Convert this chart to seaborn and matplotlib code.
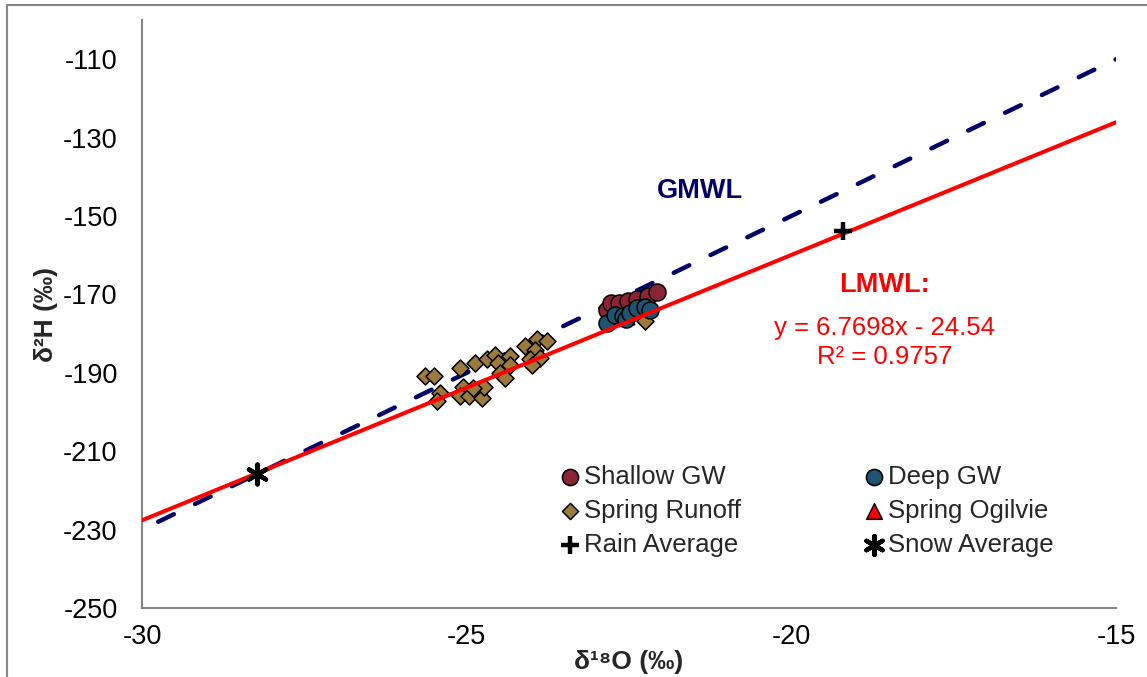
import matplotlib
matplotlib.use('Agg')
import matplotlib.pyplot as plt
import matplotlib.patches as mpatches
import seaborn as sns

# --- DATA ---
shallow_x = [-22.84, -22.78, -22.66, -22.51, -22.38, -22.20, -22.07]
shallow_y = [-173.9, -172.2, -172.2, -171.7, -171.3, -170.5, -169.4]

deep_x = [-22.84, -22.72, -22.59, -22.54, -22.48, -22.38, -22.25, -22.18]
deep_y = [-177.3, -175.2, -175.6, -176.4, -174.8, -173.5, -173.1, -173.9]

runoff_x = [-25.64, -25.51, -25.41, -25.46, -25.10, -25.05, -25.10, -24.97, -24.87,
            -24.77, -24.74, -24.69, -24.56, -24.51, -24.49, -24.33, -24.33, -24.41,
            -24.10, -23.92, -23.77, -23.95, -24.02, -23.87, -24.00, -22.25, -24.90]
runoff_y = [-190.9, -190.9, -195.1, -197.3, -188.8, -193.5, -196.0, -196.0, -187.5,
            -196.4, -193.5, -186.6, -185.4, -187.5, -190.0, -185.8, -187.9, -191.3,
            -183.2, -181.5, -182.0, -184.1, -186.6, -186.2, -187.9, -176.9, -194.0]

ogilvie_x = [-22.55]
ogilvie_y = [-175.5]

rain_x = [-19.20]
rain_y = [-153.9]

snow_x = [-28.23]
snow_y = [-215.8]

# meteoric water lines
lmwl_slope, lmwl_icpt = 6.7698, -24.54
lmwl_x = [-30, -15]
gmwl_slope, gmwl_icpt = 8, 10
gmwl_x = [-29.75, -15]

x_ticks = [-30, -25, -20, -15]
y_ticks = [-250, -230, -210, -190, -170, -150, -130, -110]

# --- STYLE ---
sns.set_style("white")
plt.rcParams['font.family'] = ['Liberation Sans', 'DejaVu Sans']
grey = "#868686"

fig = plt.figure(figsize=(11.47, 6.77), dpi=100)
ax = fig.add_axes([142 / 1147, 1 - 608 / 677, 974 / 1147, 588 / 677])

# GMWL (under the points)
sns.lineplot(x=gmwl_x, y=[gmwl_slope * v + gmwl_icpt for v in gmwl_x], ax=ax,
             color="#000066", linewidth=3.2, dashes=False, zorder=1,
             linestyle=(0, (3.9, 5.3)), dash_capstyle='round')

mk = dict(edgecolor="black", linewidth=1.1, ax=ax, zorder=3)
sns.scatterplot(x=runoff_x, y=runoff_y, marker="D", s=75, color="#9C7A3C", label="Spring Runoff", **mk)
sns.scatterplot(x=ogilvie_x, y=ogilvie_y, marker="^", s=140, color="#FF0000", label="Spring Ogilvie", **mk)
sns.scatterplot(x=shallow_x, y=shallow_y, marker="o", s=150, color="#8B2535", label="Shallow GW", **mk)
sns.scatterplot(x=deep_x, y=deep_y, marker="o", s=150, color="#1D5470", label="Deep GW", **mk)

# LMWL (on top of the points)
sns.lineplot(x=lmwl_x, y=[lmwl_slope * v + lmwl_icpt for v in lmwl_x], ax=ax,
             color="#FF0000", linewidth=2.9, zorder=4)

ax.scatter(rain_x, rain_y, marker="+", s=170, color="black", linewidths=3.2,
           label="Rain Average", zorder=5)
ax.scatter(snow_x, snow_y, marker=(6, 2, 0), s=200, color="black", linewidths=3.2,
           label="Snow Average", zorder=5)

# --- AXES ---
ax.set_xlim(-30, -15)
ax.set_ylim(-250, -100)
ax.set_xticks(x_ticks)
ax.set_yticks(y_ticks)
ax.set_xticklabels([str(v) for v in x_ticks])
ax.set_yticklabels([str(v) for v in y_ticks])
ax.tick_params(axis='both', direction='out', length=6.5, width=1.5, color=grey,
               labelsize=19.5, labelcolor="black")
ax.tick_params(axis='y', pad=11)
ax.tick_params(axis='x', pad=5)
for side in ['top', 'right']:
    ax.spines[side].set_visible(False)
for side in ['left', 'bottom']:
    ax.spines[side].set_color(grey)
    ax.spines[side].set_linewidth(1.5)

ax.set_xlabel("δ¹⁸O (‰)", fontsize=19, fontweight='bold', labelpad=0)
ax.set_ylabel("δ²H (‰)", fontsize=19, fontweight='bold', labelpad=4)

# --- ANNOTATIONS ---
ax.text(-21.4, -143.7, "GMWL", color="#000066", fontsize=19.5, fontweight='bold',
        ha='center', va='center')
ax.text(-18.56, -167.5, "LMWL:", color="#FF0000", fontsize=19.5, fontweight='bold',
        ha='center', va='center')
ax.text(-18.56, -178.5, "y = 6.7698x - 24.54", color="#FF0000", fontsize=18.5,
        ha='center', va='center')
ax.text(-18.56, -185.9, "R² = 0.9757", color="#FF0000", fontsize=18.5,
        ha='center', va='center')

# --- LEGEND (row-major order like the original) ---
handles, labels = ax.get_legend_handles_labels()
lookup = dict(zip(labels, handles))
order = ["Shallow GW", "Spring Runoff", "Rain Average",
         "Deep GW", "Spring Ogilvie", "Snow Average"]
leg = ax.legend([lookup[k] for k in order], order, ncol=2, loc='center',
                bbox_to_anchor=(0.683, 0.165), frameon=False, fontsize=18.5,
                handlelength=0.7, handletextpad=0.2, columnspacing=4.8,
                labelspacing=0.38, markerscale=0.95)

# outer chart border
fig.patches.append(mpatches.Rectangle((7 / 1147, -0.1), 1.2, 1.1 - 5 / 677,
                                      transform=fig.transFigure, fill=False,
                                      edgecolor=grey, linewidth=1.5))

plt.savefig("out.png", dpi=100)
